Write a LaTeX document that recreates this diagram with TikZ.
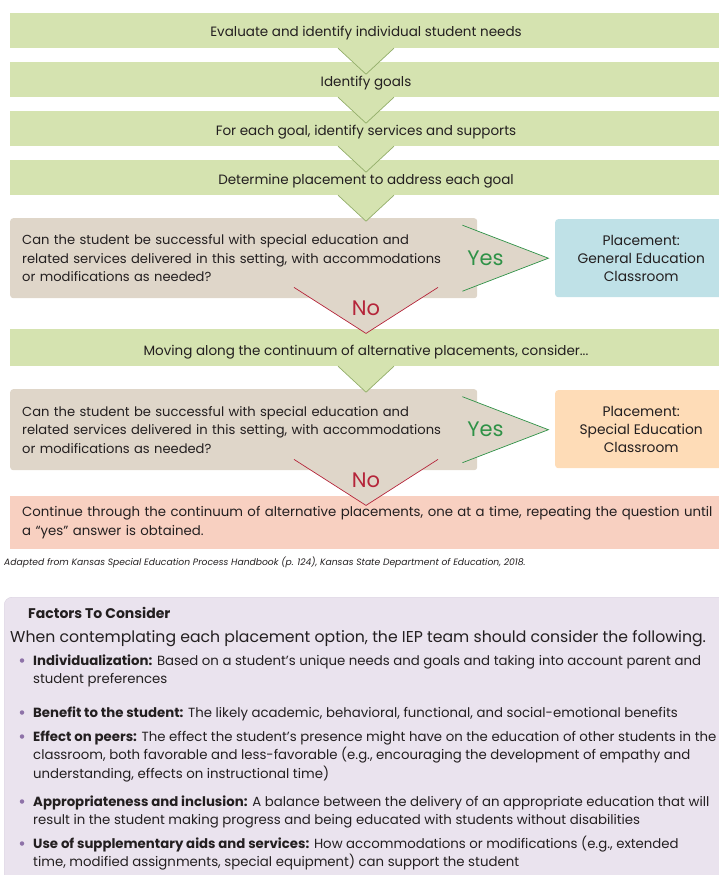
\documentclass[tikz,border=0pt]{standalone}
\usepackage{fontspec}
\setmainfont{Poppins}
\usetikzlibrary{positioning,calc}

\definecolor{stepgreen}{HTML}{D5E3B0}
\definecolor{stepedge}{HTML}{93AE6A}
\definecolor{asktan}{HTML}{DFD6C9}
\definecolor{genblue}{HTML}{BFE1E7}
\definecolor{speorange}{HTML}{FEDCB7}
\definecolor{goonpink}{HTML}{F8D0C1}
\definecolor{yesgreen}{HTML}{2F9247}
\definecolor{nored}{HTML}{B5253A}
\definecolor{factlilac}{HTML}{EAE3EE}
\definecolor{factedge}{HTML}{DAD2E0}
\definecolor{dotpurple}{HTML}{8E72A8}
\definecolor{inktext}{HTML}{231F20}

\newcommand\barfont{\fontsize{13.5}{18.6}\selectfont}
\newcommand\bodyfont{\fontsize{13.1}{18.6}\selectfont}
\newcommand\placefont{\fontsize{13.8}{18}\selectfont}
\newcommand\markfont{\fontsize{21}{21}\selectfont}
\newcommand\notefont{\fontsize{9.2}{11}\selectfont\itshape}
\newcommand\introfont{\fontsize{15.7}{18}\selectfont}
\newcommand\titlefont{\fontsize{14}{18}\selectfont\bfseries}
\newcommand\listfont{\fontsize{13.3}{18.8}\selectfont}

\begin{document}
\begin{tikzpicture}[x=1pt, y=-1pt,
  every node/.style={text=inktext, font=\bodyfont},
  bar/.style={fill=stepgreen, minimum width=712pt, inner ysep=0pt,
    text height=24pt, text depth=11pt, font=\barfont},
  askbox/.style={fill=asktan, rounded corners=3pt, text width=443pt,
    align=left, inner xsep=12pt, minimum height=80pt, anchor=north west},
  placebox/.style={rounded corners=3pt, align=center, minimum width=172pt,
    minimum height=78pt, anchor=north west, font=\placefont},
  yesmark/.style={text=yesgreen, font=\markfont},
  nomark/.style={text=nored, font=\markfont},
  chevron/.style={line width=0.7pt},
  itemtext/.style={anchor=base west, align=left, inner sep=0pt, font=\listfont},
  bulletdot/.style={circle, fill=dotpurple, inner sep=0pt, minimum size=4.5pt}
]
\useasboundingbox (0,0) rectangle (718,875);

% steps
\node[bar] (b1) at (366,30.5) {Evaluate and identify individual student needs};
\node[bar] (b2) at (366,79.5) {Identify goals};
\node[bar] (b3) at (366,128.5) {For each goal, identify services and supports};
\node[bar] (b4) at (366,177.5) {Determine placement to address each goal};

% first question
\node[askbox] (q1) at (10,218) {Can the student be successful with special education and\\
  related services delivered in this setting, with accommodations\\
  or modifications as needed?};
\node[placebox, fill=genblue] (p1) at (555,219) {Placement:\\General Education\\Classroom};

\node[bar, text height=26pt] (b5) at (366,347.5)
  {Moving along the continuum of alternative placements, consider...};

% second question
\node[askbox, minimum height=81pt] (q2) at (10,389) {Can the student be successful with special education and\\
  related services delivered in this setting, with accommodations\\
  or modifications as needed?};
\node[placebox, fill=speorange] (p2) at (555,390) {Placement:\\Special Education\\Classroom};

\node[fill=goonpink, minimum height=53pt, text width=700pt, inner xsep=12pt,
  align=left, anchor=north west, font=\fontsize{13.3}{18.6}\selectfont] (gp) at (10,496)
  {Continue through the continuum of alternative placements, one at a time, repeating the question until\\
   a “yes” answer is obtained.};

% green arrows between steps
\foreach \s in {b1,b2,b3,b4,b5} {
  \fill[stepgreen] ($(\s.south)+(-28,0)$) -- ($(\s.south)+(0,26)$) -- ($(\s.south)+(28,0)$) -- cycle;
  \draw[chevron, stepedge] ($(\s.south)+(-28,0)$) -- ($(\s.south)+(0,26)$) -- ($(\s.south)+(28,0)$);
}

% yes / no arrows
\foreach \q/\b in {q1/b4,q2/b5} {
  \fill[asktan] ($(\q.east)+(-15,-33)$) -- ($(\q.east)+(71,0)$) -- ($(\q.east)+(-15,33)$) -- cycle;
  \draw[chevron, yesgreen] ($(\q.east)+(-15,-33)$) -- ($(\q.east)+(71,0)$) -- ($(\q.east)+(-15,33)$);
  \fill[asktan] ($(\q.south -| \b.south)+(-72,-11)$) -- ($(\q.south -| \b.south)+(0,35)$)
    -- ($(\q.south -| \b.south)+(72,-11)$) -- cycle;
  \draw[chevron, nored] ($(\q.south -| \b.south)+(-72,-11)$) -- ($(\q.south -| \b.south)+(0,35)$)
    -- ($(\q.south -| \b.south)+(72,-11)$);
}
\node[yesmark] (y1) at ($(q1.east)+(8,0)$) {Yes};
\node[yesmark] (y2) at ($(q2.east)+(8,0)$) {Yes};
\node[nomark] (n1) at ($(q1.south -| b4.south)+(0,10)$) {No};
\node[nomark] (n2) at ($(q2.south -| b5.south)+(0,10)$) {No};

\node[anchor=base west, font=\notefont, inner sep=0pt] (src) at (4,565)
  {Adapted from Kansas Special Education Process Handbook (p. 124), Kansas State Department of Education, 2018.};

% factors panel
\node[draw=factedge, fill=factlilac, rounded corners=8pt, minimum width=740pt,
  minimum height=300pt, anchor=north west] (panel) at (4,597) {};
\node[anchor=base west, font=\titlefont, inner sep=0pt] (ftitle) at (28,618) {Factors To Consider};
\node[anchor=base west, font=\introfont, inner sep=0pt] (fintro) at (10,642)
  {When contemplating each placement option, the IEP team should consider the following.};

% list items sit on the baseline of their last line
\node[itemtext] (f1) at (33,665+18.8) {\textbf{Individualization:} Based on a student’s unique needs and goals and taking into account parent and\\
  student preferences};
\node[itemtext] (f2) at (33,717) {\textbf{Benefit to the student:} The likely academic, behavioral, functional, and social-emotional benefits};
\node[itemtext] (f3) at (33,741+2*18.8) {\textbf{Effect on peers:} The effect the student’s presence might have on the education of other students in the\\
  classroom, both favorable and less-favorable (e.g., encouraging the development of empathy and\\
  understanding, effects on instructional time)};
\node[itemtext] (f4) at (33,806+18.8) {\textbf{Appropriateness and inclusion:} A balance between the delivery of an appropriate education that will\\
  result in the student making progress and being educated with students without disabilities};
\node[itemtext] (f5) at (33,848+18.8) {\textbf{Use of supplementary aids and services:} How accommodations or modifications (e.g., extended\\
  time, modified assignments, special equipment) can support the student};

\foreach \y [count=\i] in {665,717,741,806,848}
  \node[bulletdot] (d\i) at (22,\y-4.5) {};
\end{tikzpicture}
\end{document}
